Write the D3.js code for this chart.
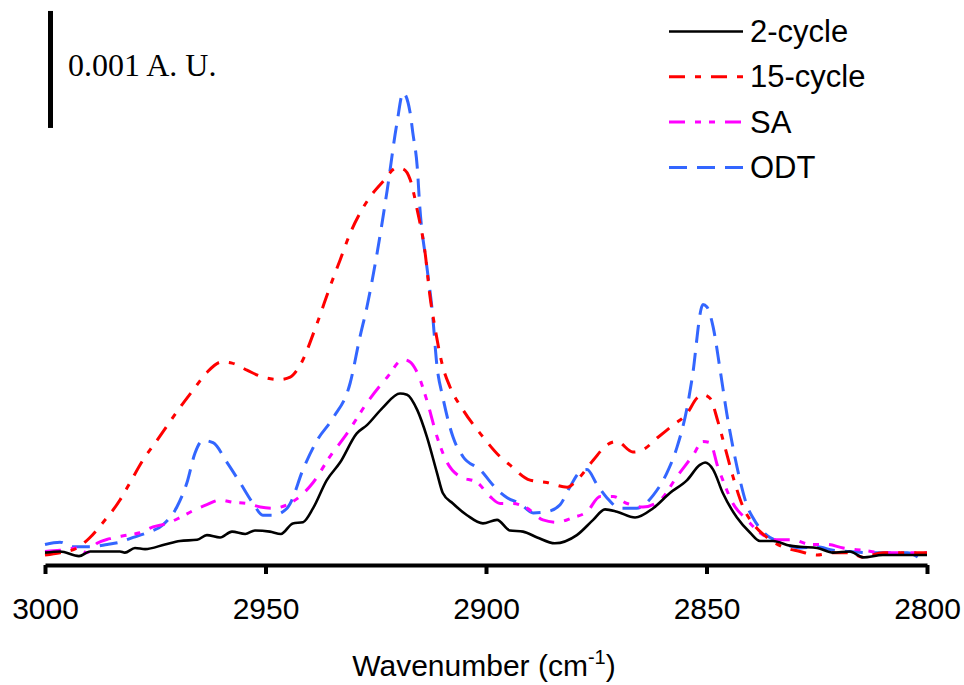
<!DOCTYPE html>
<html>
<head>
<meta charset="utf-8">
<script src="https://d3js.org/d3.v7.min.js"></script>
<style>
  body { margin: 0; background: #fff; }
  svg { display: block; }
</style>
</head>
<body>
<div id="viz-container"></div>
<script>
let width = 964;
let height = 685;

// x: wavenumber (cm-1), y: absorbance in units of 0.001 A.U.
let cycle2 = [
  [3000,0.02],[2996.6,0.03],[2992.3,-0.01],[2989.8,0.03],[2983.0,0.03],[2981.9,0.02],
  [2979.6,0.06],[2977.3,0.05],[2972.8,0.09],[2969.4,0.12],[2965.5,0.13],[2963.3,0.17],
  [2960.3,0.15],[2957.6,0.20],[2954.6,0.18],[2952.4,0.21],[2949.0,0.20],[2946.5,0.18],
  [2943.8,0.27],[2941.5,0.28],[2939.2,0.40],[2936.1,0.64],[2933.1,0.79],[2929.3,1.04],
  [2927.0,1.11],[2923.4,1.26],[2919.5,1.38],[2917.9,1.37],[2915.6,1.24],[2913.4,1.01],
  [2911.1,0.70],[2909.8,0.53],[2907.5,0.44],[2904.3,0.34],[2900.7,0.27],[2897.5,0.30],
  [2894.6,0.21],[2891.6,0.20],[2888.4,0.15],[2884.4,0.10],[2879.4,0.17],[2875.7,0.30],
  [2873.0,0.39],[2870.3,0.37],[2866.2,0.32],[2862.1,0.40],[2858.3,0.53],[2854.4,0.64],
  [2851.5,0.77],[2850.3,0.79],[2848.5,0.73],[2846.3,0.53],[2843.1,0.32],[2840.1,0.19],
  [2837.9,0.12],[2834.9,0.12],[2831.1,0.08],[2828.8,0.07],[2824.9,0.06],[2821.3,0.02],
  [2817.5,0.03],[2814.5,-0.02],[2810.0,0.00],[2806.1,0.00],[2800.0,0.00]
];
let cycle15 = [
  [3000,0.00],[2996.6,0.02],[2992.7,0.06],[2989.8,0.15],[2986.8,0.28],[2983.0,0.47],
  [2980.7,0.62],[2977.8,0.81],[2974.6,0.98],[2969.4,1.26],[2966.4,1.41],[2963.3,1.56],
  [2959.9,1.65],[2957.6,1.64],[2954.2,1.58],[2950.6,1.52],[2946.7,1.50],[2944.4,1.52],
  [2942.2,1.62],[2938.3,1.98],[2935.4,2.29],[2933.1,2.52],[2930.8,2.75],[2928.6,2.92],
  [2926.3,3.06],[2923.4,3.19],[2920.2,3.31],[2918.8,3.30],[2917.2,3.21],[2915.6,2.95],
  [2913.8,2.58],[2912.7,2.21],[2911.6,1.95],[2909.8,1.61],[2908.2,1.44],[2905.2,1.24],
  [2900.7,1.01],[2896.8,0.84],[2894.6,0.77],[2890.0,0.64],[2886.2,0.62],[2881.6,0.58],
  [2879.4,0.64],[2875.7,0.81],[2872.6,0.94],[2870.3,0.97],[2866.7,0.88],[2864.4,0.90],
  [2861.2,1.00],[2857.6,1.11],[2854.4,1.21],[2852.2,1.34],[2850.8,1.37],[2849.2,1.34],
  [2847.4,1.14],[2845.8,0.92],[2844.0,0.67],[2841.7,0.41],[2839.5,0.27],[2836.3,0.15],
  [2832.7,0.07],[2828.8,0.03],[2824.9,0.00],[2821.3,0.02],[2817.5,0.02],[2814.5,-0.02],
  [2810.0,0.02],[2804.5,0.02],[2800.0,0.02]
];
let sa = [
  [3000,0.03],[2996.6,0.04],[2992.7,0.06],[2990.5,0.02],[2988.2,0.10],[2985.3,0.14],
  [2981.4,0.17],[2978.5,0.19],[2975.5,0.24],[2972.3,0.27],[2969.4,0.32],[2966.4,0.38],
  [2963.3,0.43],[2960.3,0.47],[2957.4,0.45],[2954.2,0.44],[2951.2,0.41],[2948.3,0.40],
  [2945.1,0.43],[2942.2,0.50],[2939.2,0.62],[2935.4,0.84],[2931.5,1.04],[2927.0,1.30],
  [2922.4,1.52],[2918.8,1.67],[2917.2,1.65],[2915.6,1.56],[2913.4,1.32],[2911.1,1.01],
  [2908.8,0.79],[2905.9,0.67],[2902.0,0.62],[2899.1,0.50],[2896.8,0.44],[2893.9,0.44],
  [2890.7,0.40],[2887.1,0.30],[2883.9,0.28],[2880.3,0.32],[2877.1,0.37],[2874.1,0.50],
  [2871.2,0.50],[2868.0,0.44],[2864.4,0.41],[2860.5,0.47],[2856.7,0.67],[2853.1,0.85],
  [2850.8,0.97],[2849.2,0.96],[2847.4,0.75],[2846.3,0.64],[2844.0,0.44],[2840.8,0.30],
  [2837.9,0.19],[2834.0,0.13],[2830.4,0.13],[2826.5,0.09],[2822.7,0.09],[2819.0,0.06],
  [2814.5,0.04],[2810.0,0.02],[2804.5,0.02],[2800.0,0.02]
];
let odt = [
  [3000,0.09],[2996.6,0.11],[2993.7,0.07],[2989.8,0.07],[2985.9,0.09],[2983.0,0.11],
  [2980.0,0.15],[2976.9,0.19],[2973.2,0.26],[2970.1,0.41],[2967.8,0.62],[2966.0,0.87],
  [2964.2,0.98],[2961.9,0.96],[2958.7,0.79],[2955.8,0.62],[2952.8,0.44],[2950.6,0.34],
  [2948.3,0.34],[2945.1,0.40],[2944.4,0.44],[2941.5,0.73],[2938.3,0.98],[2934.7,1.17],
  [2930.8,1.47],[2928.6,1.86],[2927.0,2.12],[2924.7,2.58],[2922.4,3.12],[2920.2,3.69],
  [2918.8,3.95],[2917.2,3.78],[2916.6,3.61],[2915.6,3.32],[2915.0,2.97],[2913.4,2.46],
  [2912.2,2.09],[2911.1,1.61],[2909.8,1.35],[2907.5,1.01],[2905.2,0.84],[2901.4,0.73],
  [2897.5,0.56],[2895.2,0.49],[2892.3,0.44],[2889.3,0.36],[2886.2,0.37],[2883.2,0.43],
  [2881.0,0.58],[2878.7,0.71],[2877.1,0.73],[2874.8,0.60],[2872.6,0.49],[2869.6,0.40],
  [2865.8,0.40],[2862.1,0.51],[2859.0,0.70],[2856.7,0.92],[2854.4,1.26],[2853.3,1.50],
  [2850.8,2.14],[2849.9,2.12],[2848.5,1.95],[2846.9,1.58],[2845.4,1.21],[2844.0,0.92],
  [2842.4,0.64],[2840.8,0.42],[2839.5,0.32],[2836.7,0.18],[2833.3,0.11],[2828.8,0.06],
  [2824.9,0.07],[2821.3,0.04],[2817.5,0.03],[2813.6,0.02],[2809.1,0.02],[2804.5,0.02],
  [2801.6,-0.03]
];

let seriesNames = ['2-cycle','15-cycle','SA','ODT'];
let seriesData = [cycle2, cycle15, sa, odt];
let seriesColors = ['#000000','#ff0000','#ff00ff','#3366ff'];
let seriesDash = ['none','16,10,6,10','16,10,6,8,6,10','18,10'];
let xTicks = [3000, 2950, 2900, 2850, 2800];

let viz = d3.select('#viz-container')
  .append('svg')
  .attr('width', width)
  .attr('height', height);

let xScale = d3.scaleLinear().domain([3000, 2800]).range([45, 927]);
let yScale = d3.scaleLinear().domain([0, 4]).range([555, 87]);

let line = d3.line()
  .x(d => xScale(d[0]))
  .y(d => yScale(d[1]))
  .curve(d3.curveMonotoneX);

// draw in reverse so black sits on top like the original
let order = [3, 2, 1, 0];
order.forEach(function(i){
  viz.append('path')
    .datum(seriesData[i])
    .attr('d', line)
    .attr('fill', 'none')
    .attr('stroke', seriesColors[i])
    .attr('stroke-width', i == 0 ? 2.6 : 3)
    .attr('stroke-dasharray', seriesDash[i]);
});

// x axis
let xAxis = d3.axisBottom(xScale)
  .tickValues(xTicks)
  .tickFormat(d3.format('d'))
  .tickSize(9)
  .tickSizeOuter(0)
  .tickPadding(24);

let axisG = viz.append('g')
  .attr('transform', 'translate(0,565)')
  .call(xAxis);
axisG.select('.domain').attr('stroke', '#000').attr('stroke-width', 4);
axisG.selectAll('.tick line').attr('stroke', '#000').attr('stroke-width', 4);
axisG.selectAll('.tick text')
  .attr('fill', '#000')
  .attr('font-family', 'Liberation Sans, Arial, sans-serif')
  .attr('font-size', 30);

let title = viz.append('text')
  .attr('x', 484)
  .attr('y', 676)
  .attr('text-anchor', 'middle')
  .attr('font-family', 'Liberation Sans, Arial, sans-serif')
  .attr('font-size', 30)
  .attr('fill', '#000');
title.append('tspan').text('Wavenumber (cm');
title.append('tspan').text('-1').attr('font-size', 20).attr('dy', -12);
title.append('tspan').text(')').attr('dy', 12);

// scale bar: 0.001 A.U.
viz.append('line')
  .attr('x1', 50.5).attr('x2', 50.5)
  .attr('y1', yScale(3.65)).attr('y2', yScale(4.65))
  .attr('stroke', '#000')
  .attr('stroke-width', 5);
viz.append('text')
  .text('0.001 A. U.')
  .attr('x', 68)
  .attr('y', 76)
  .attr('font-family', 'Liberation Serif, Times New Roman, serif')
  .attr('font-size', 32)
  .attr('fill', '#000');

// legend
let legend = viz.selectAll('.legend').data(seriesNames).enter()
  .append('g')
  .attr('class', 'legend')
  .attr('transform', (d, i) => 'translate(0,' + (42 + i * 45.3) + ')');
legend.append('line')
  .attr('x1', 669).attr('x2', 743)
  .attr('y1', -10.5).attr('y2', -10.5)
  .attr('stroke', (d, i) => seriesColors[i])
  .attr('stroke-width', (d, i) => i == 0 ? 2.6 : 3)
  .attr('stroke-dasharray', (d, i) => seriesDash[i]);
legend.append('text')
  .text(d => d)
  .attr('x', 750)
  .attr('y', 0)
  .attr('font-family', 'Liberation Sans, Arial, sans-serif')
  .attr('font-size', 31)
  .attr('fill', '#000');
</script>
</body>
</html>
